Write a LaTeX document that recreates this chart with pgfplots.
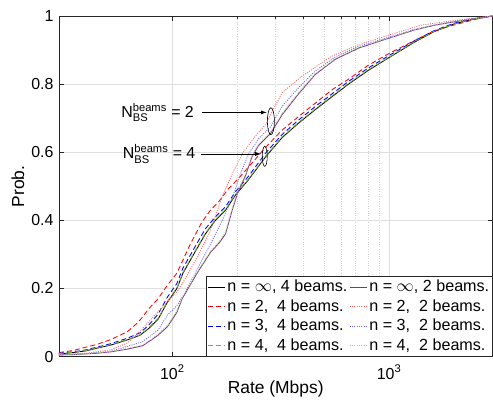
\documentclass[border=0pt]{standalone}
\usepackage{fontspec}
\setmainfont{Liberation Sans}
\usepackage{amsmath}
\usepackage{pgfplots}
\pgfplotsset{compat=1.18}
\usetikzlibrary{arrows.meta}
\definecolor{mgreen}{rgb}{0.47,0.67,0.19}
\definecolor{mpurple}{rgb}{0.49,0.18,0.56}
\definecolor{axgray}{rgb}{0.15,0.15,0.15}
\begin{document}
\fontsize{16}{19}\selectfont
\begin{tikzpicture}
\begin{axis}[
  scale only axis, width=434bp, height=341bp,
  xmode=log, xmin=30, xmax=3000, ymin=0, ymax=1,
  xtick={100,1000}, xticklabels={10\textsuperscript{2},10\textsuperscript{3}},
  ytick={0,0.2,0.4,0.6,0.8,1}, yticklabels={0,0.2,0.4,0.6,0.8,1},
  xticklabel style={yshift=-3bp},
  tick align=inside,
  major tick length=5bp, minor tick length=3bp,
  every tick/.style={axgray, line width=0.5bp},
  axis line style={axgray, line width=0.7bp},
  xmajorgrids, xminorgrids, ymajorgrids,
  major grid style={gray!25, line width=0.6bp},
  minor grid style={gray!35, dotted, line width=0.5bp},
  xlabel={Rate (Mbps)}, ylabel={Prob.},
  label style={font=\fontsize{17.5}{20}\selectfont},
  xlabel style={at={(axis description cs:0.5,-0.096)}, anchor=center},
  ylabel style={at={(axis description cs:-0.0945,0.5)}, anchor=center},
  legend columns=4, transpose legend,
  legend cell align=left,
  legend style={at={(1,0)}, anchor=south east, draw=axgray, line width=0.6bp,
    fill=white, inner xsep=1bp, inner ysep=1.5bp, row sep=1.5bp,
    nodes={inner sep=2bp}, font=\fontsize{16.2}{19}\selectfont},
  legend image code/.code={\draw[#1, line width=1.1bp] (0bp,0bp) -- (17bp,0bp);},
  every axis plot/.append style={line width=0.85bp},
]
% n = inf, 4 beams
\addplot[black] coordinates {
(30,0.008)(35,0.012)(40,0.017)(45,0.025)(52,0.034)(62,0.049)(71,0.063)(78,0.083)(86,0.11)(95,0.16)(105,0.20)(112,0.245)(128,0.31)(142,0.36)(158,0.40)(176,0.43)(196,0.475)(225,0.52)(269,0.586)(321,0.643)(383,0.686)(465,0.729)(550,0.765)(650,0.80)(800,0.84)(1000,0.878)(1300,0.922)(1600,0.953)(2000,0.977)(2500,0.992)(3000,1.0)};
\addlegendentry{n = $\infty$, 4 beams.}
% n = 2, 4 beams
\addplot[red, dash pattern=on 5bp off 3bp] coordinates {
(30,0.012)(35,0.018)(40,0.028)(45,0.036)(52,0.05)(62,0.073)(68,0.095)(72,0.112)(78,0.141)(86,0.17)(95,0.21)(105,0.245)(121,0.33)(137,0.395)(150,0.43)(164,0.455)(180,0.49)(200,0.52)(225,0.557)(269,0.614)(321,0.665)(383,0.705)(465,0.748)(550,0.785)(652,0.815)(800,0.855)(1000,0.89)(1311,0.928)(1600,0.955)(1900,0.97)(2500,0.99)(3000,1.0)};
\addlegendentry{n = 2,\ \ 4 beams.}
% n = 3, 4 beams
\addplot[blue, dash pattern=on 5bp off 3bp] coordinates {
(30,0.01)(35,0.014)(40,0.02)(45,0.028)(52,0.038)(62,0.054)(71,0.07)(78,0.093)(86,0.125)(95,0.175)(105,0.215)(112,0.26)(128,0.325)(142,0.375)(158,0.41)(176,0.44)(196,0.485)(225,0.53)(269,0.597)(321,0.652)(383,0.695)(465,0.738)(550,0.773)(650,0.808)(800,0.847)(1000,0.884)(1300,0.926)(1600,0.956)(2000,0.979)(2500,0.993)(3000,1.0)};
\addlegendentry{n = 3,\ \ 4 beams.}
% n = 4, 4 beams
\addplot[mgreen, dash pattern=on 5bp off 3bp] coordinates {
(30,0.009)(35,0.013)(40,0.018)(45,0.026)(52,0.035)(62,0.05)(71,0.064)(78,0.085)(86,0.112)(95,0.162)(105,0.202)(112,0.247)(128,0.312)(142,0.362)(158,0.402)(176,0.432)(196,0.477)(225,0.522)(269,0.588)(321,0.645)(383,0.688)(465,0.731)(550,0.767)(650,0.802)(800,0.842)(1000,0.879)(1300,0.923)(1600,0.954)(2000,0.977)(2500,0.992)(3000,1.0)};
\addlegendentry{n = 4,\ \ 4 beams.}
% n = inf, 2 beams
\addplot[mpurple] coordinates {
(30,0.005)(35,0.006)(40,0.008)(45,0.01)(52,0.014)(62,0.022)(73,0.032)(80,0.049)(86,0.063)(95,0.088)(105,0.13)(111,0.17)(131,0.248)(150,0.306)(165,0.335)(176,0.36)(189,0.43)(200,0.48)(217,0.529)(233,0.586)(250,0.62)(284,0.655)(321,0.71)(383,0.772)(456,0.828)(565,0.873)(725,0.906)(1000,0.935)(1311,0.959)(1622,0.973)(2000,0.983)(2670,0.995)(3000,1.0)};
\addlegendentry{n = $\infty$, 2 beams.}
% n = 2, 2 beams
\addplot[red!60, dash pattern=on 1bp off 1.3bp] coordinates {
(30,0.006)(40,0.01)(52,0.02)(62,0.04)(71,0.074)(78,0.103)(86,0.132)(95,0.161)(105,0.19)(115,0.23)(130,0.29)(150,0.37)(170,0.47)(190,0.54)(210,0.595)(240,0.645)(269,0.681)(321,0.775)(400,0.825)(544,0.882)(725,0.916)(1000,0.944)(1400,0.973)(2000,0.987)(3000,1.0)};
\addlegendentry{n = 2,\ \ 2 beams.}
% n = 3, 2 beams
\addplot[blue!60, dash pattern=on 1bp off 1.3bp] coordinates {
(30,0.005)(40,0.009)(52,0.016)(62,0.03)(73,0.044)(80,0.063)(86,0.078)(95,0.122)(105,0.15)(115,0.19)(131,0.26)(150,0.33)(170,0.40)(190,0.47)(210,0.55)(225,0.595)(250,0.64)(284,0.675)(321,0.735)(383,0.79)(456,0.838)(565,0.88)(725,0.911)(1000,0.938)(1311,0.961)(2000,0.985)(3000,1.0)};
\addlegendentry{n = 3,\ \ 2 beams.}
% n = 4, 2 beams
\addplot[mgreen!60, dash pattern=on 1bp off 1.3bp] coordinates {
(30,0.005)(35,0.006)(40,0.008)(45,0.011)(52,0.015)(62,0.024)(73,0.034)(80,0.051)(86,0.066)(95,0.092)(105,0.134)(111,0.173)(131,0.251)(150,0.309)(165,0.339)(176,0.365)(189,0.435)(200,0.484)(217,0.533)(233,0.59)(250,0.624)(284,0.659)(321,0.714)(383,0.775)(456,0.83)(565,0.875)(725,0.908)(1000,0.936)(1311,0.96)(1622,0.974)(2000,0.984)(2670,0.995)(3000,1.0)};
\addlegendentry{n = 4,\ \ 2 beams.}
% annotations
\draw[line width=0.6bp] (axis cs:285,0.691) ellipse [x radius=3.5bp, y radius=13.5bp];
\draw[line width=0.6bp] (axis cs:267,0.588) ellipse [x radius=2.5bp, y radius=10bp];
\draw[line width=0.6bp, -{Latex[length=6bp,width=4bp]}] (axis cs:137,0.717) -- (axis cs:273,0.717);
\draw[line width=0.6bp, -{Latex[length=6bp,width=4bp]}] (axis cs:135,0.595) -- (axis cs:257,0.595);
\node[anchor=east, inner sep=0pt] at (axis cs:126,0.717) {N$^{\text{beams}}_{\text{BS}}$ = 2};
\node[anchor=east, inner sep=0pt] at (axis cs:128,0.595) {N$^{\text{beams}}_{\text{BS}}$ = 4};
\end{axis}
\pgfresetboundingbox
\path[use as bounding box] ([xshift=-59bp,yshift=-45bp]current axis.south west) rectangle ([yshift=16bp,xshift=0.5bp]current axis.north east);
\end{tikzpicture}
\end{document}
